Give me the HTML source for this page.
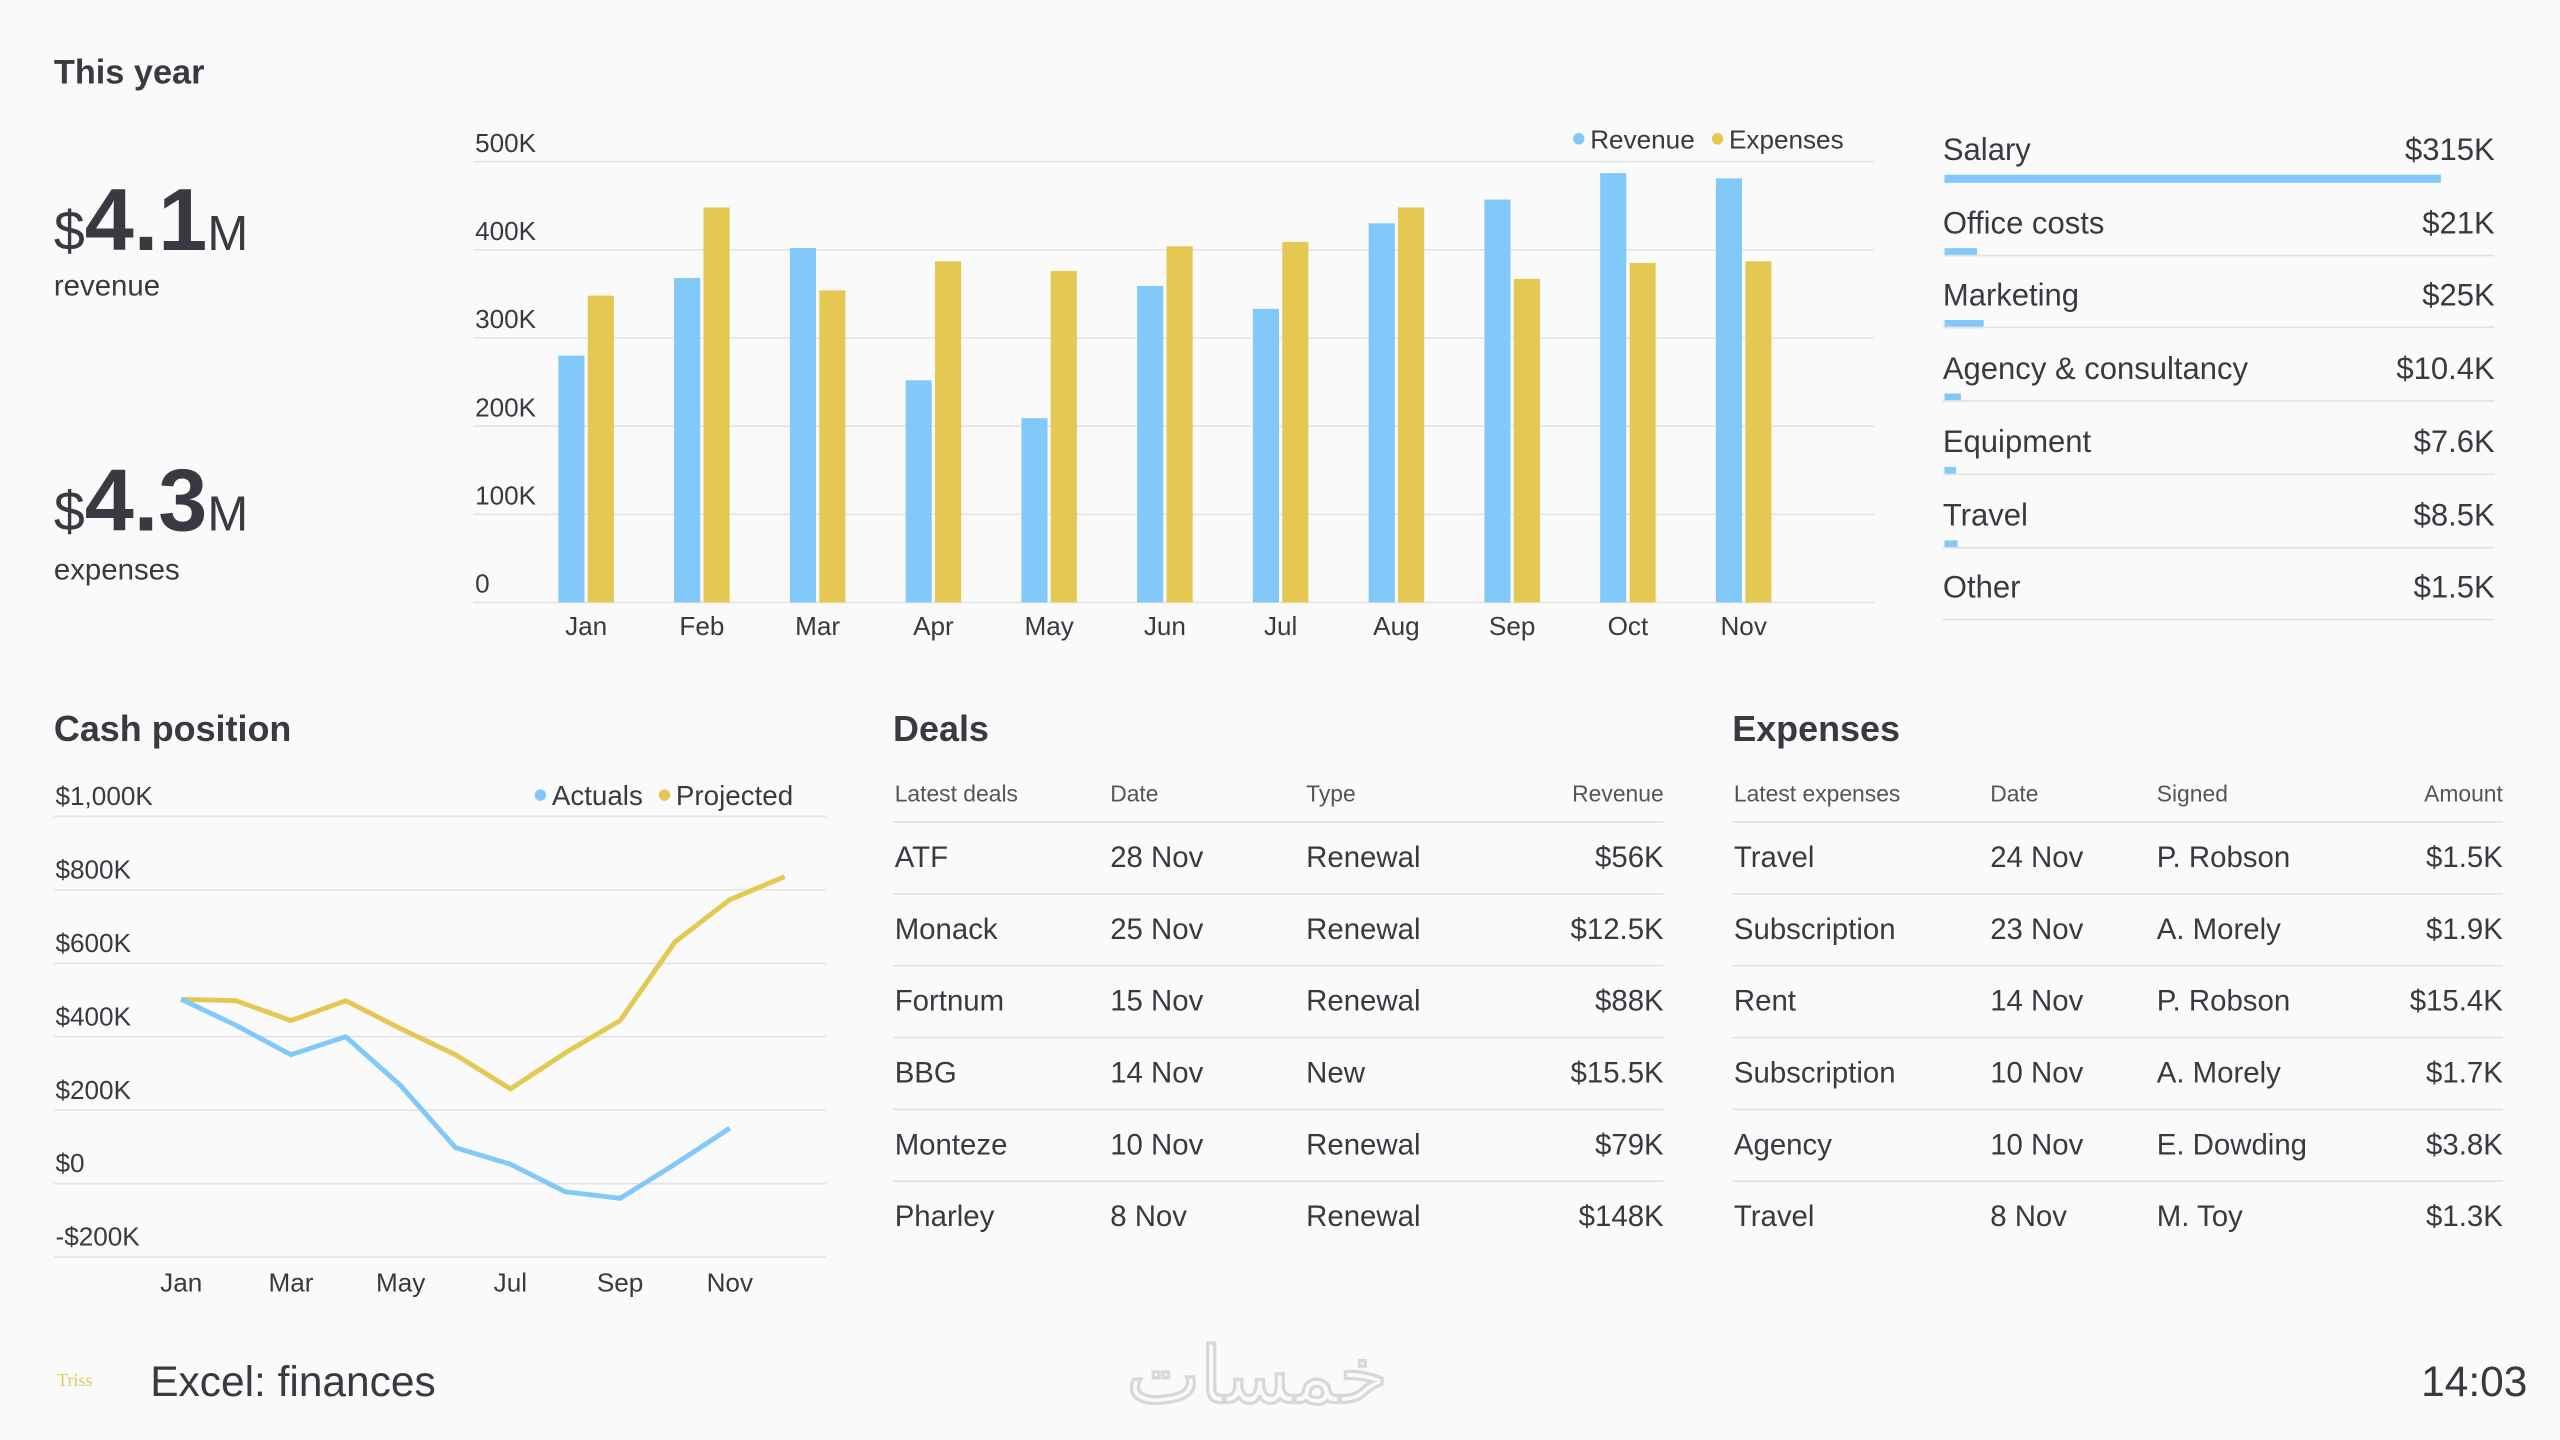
<!DOCTYPE html>
<html><head><meta charset="utf-8">
<style>
html,body{margin:0;padding:0;background:#fafafa;overflow:hidden}
body{width:2560px;height:1440px}
#root{position:absolute;left:0;top:0;width:1568px;height:882px;transform:scale(1.632653);transform-origin:0 0;font-family:"Liberation Sans","Noto Sans CJK SC",sans-serif;color:#3a3840;background:#fafafa}
.abs{position:absolute;white-space:nowrap}
.h{font-weight:bold;font-size:22px}
.th{font-size:14px;color:#555}
.td{font-size:18px}
.r{text-align:right}
.line{position:absolute;height:1px;background:#e2e2e2}
svg text{font-family:"Liberation Sans",sans-serif;fill:#3a3840}
</style></head><body>
<div id="root">
<div class="abs h" style="left:33px;top:33px;font-size:21px">This year</div>
<div class="abs" style="left:33px;top:104px"><span style="font-size:34px">$</span><span style="font-size:54px;font-weight:bold">4.1</span><span style="font-size:30px">M</span></div>
<div class="abs" style="left:33px;top:165px;font-size:18px">revenue</div>
<div class="abs" style="left:33px;top:276px"><span style="font-size:34px">$</span><span style="font-size:54px;font-weight:bold">4.3</span><span style="font-size:30px">M</span></div>
<div class="abs" style="left:33px;top:339px;font-size:18px">expenses</div>

<svg id="bar" class="abs" style="left:0;top:0" width="1568" height="420"></svg>
<svg id="cash" class="abs" style="left:0;top:420px" width="540" height="400"></svg>

<div id="costs"></div>

<div class="abs h" style="left:33px;top:434px">Cash position</div>
<div class="abs h" style="left:547px;top:434px">Deals</div>
<div class="abs h" style="left:1061px;top:434px">Expenses</div>
<div id="tables"></div>

<div class="abs" style="left:35px;top:840px;font-size:11px;color:#e3c86a;font-family:'Liberation Serif',serif">Triss</div>
<div class="abs" style="left:92px;top:831px;font-size:26px">Excel: finances</div>
<div class="abs" style="left:690px;top:815px;font-size:48px;color:transparent;-webkit-text-stroke:2px #d8d8d8;font-family:'DejaVu Sans',sans-serif">خمسات</div>
<div class="abs" style="right:20px;top:831px;font-size:26px">14:03</div>
</div>
<script>
const NS="http://www.w3.org/2000/svg";
function mk(p,t,a){const e=document.createElementNS(NS,t);for(const k in a)e.setAttribute(k,a[k]);p.appendChild(e);return e;}
const BLUE="#82c8f8",GOLD="#e4c852";
// Bar chart data
const months=["Jan","Feb","Mar","Apr","May","Jun","Jul","Aug","Sep","Oct","Nov"];
const revenue=[280,368,402,252,209,359,333,430,457,487,481];
const expenses=[348,448,354,387,376,404,409,448,367,385,387];
const barTicks=[0,100,200,300,400,500];
const bar=document.getElementById('bar');
const by=v=>369-v*0.54, bx=i=>359+i*70.9;
barTicks.forEach(t=>{
 const l=mk(bar,'line',{x1:290,x2:1148,y1:by(t),y2:by(t),stroke:'#e4e4e4','stroke-width':1});
 
 const tx=mk(bar,'text',{x:291,y:by(t)-6,'font-size':16});tx.textContent=t===0?'0':t+'K';
 
});
months.forEach((m,i)=>{
 const r=mk(bar,'rect',{x:bx(i)-17,y:by(revenue[i]),width:16,height:revenue[i]*0.54,fill:BLUE});
 
 const e=mk(bar,'rect',{x:bx(i)+1,y:by(expenses[i]),width:16,height:expenses[i]*0.54,fill:GOLD});
 
 const t=mk(bar,'text',{x:bx(i),y:389,'font-size':16,'text-anchor':'middle'});t.textContent=m;
 
});
[[967,'Revenue',BLUE],[1052,'Expenses',GOLD]].forEach(([x,n,c])=>{
 const g=mk(bar,'g',{});
 mk(g,'circle',{cx:x,cy:85,r:3.5,fill:c});const t=mk(g,'text',{x:x+7,y:91,'font-size':16,fill:'#555'});t.textContent=n;
});
// Cash position data
const cashMonths=["Jan","Feb","Mar","Apr","May","Jun","Jul","Aug","Sep","Oct","Nov","Dec"];
const actuals=[502,431,351,400,267,98,53,-22,-40,53,151];
const projected=[502,498,444,498,422,351,258,356,444,658,773,836];
const cashTicks=[-200,0,200,400,600,800,1000];
const cashTickLabels=["-$200K","$0","$200K","$400K","$600K","$800K","$1,000K"];
const cashXLabels=["Jan","Mar","May","Jul","Sep","Nov"];
const cash=document.getElementById('cash');
const cy=v=>305-v*0.225, cx=i=>111+i*33.6;
cashTicks.forEach((t,i)=>{
 const l=mk(cash,'line',{x1:33,x2:506,y1:cy(t)+0,y2:cy(t),stroke:'#e4e4e4','stroke-width':1});
 
 const tx=mk(cash,'text',{x:34,y:cy(t)-7,'font-size':16});tx.textContent=cashTickLabels[i];
 
});
cashXLabels.forEach((m,i)=>{
 const t=mk(cash,'text',{x:cx(i*2),y:371,'font-size':16,'text-anchor':'middle'});t.textContent=m;
 
});
const pp=mk(cash,'polyline',{points:projected.map((v,i)=>cx(i)+','+cy(v)).join(' '),fill:'none',stroke:GOLD,'stroke-width':3,'stroke-linejoin':'round'});

const ap=mk(cash,'polyline',{points:actuals.map((v,i)=>cx(i)+','+cy(v)).join(' '),fill:'none',stroke:BLUE,'stroke-width':3,'stroke-linejoin':'round'});

[[331,'Actuals',BLUE],[407,'Projected',GOLD]].forEach(([x,n,c])=>{
 const g=mk(cash,'g',{});
 mk(g,'circle',{cx:x,cy:67,r:3.5,fill:c});const t=mk(g,'text',{x:x+7,y:73,'font-size':17,fill:'#555'});t.textContent=n;
});
// Cost breakdown
const costNames=["Salary","Office costs","Marketing","Agency & consultancy","Equipment","Travel","Other"];
const costLabels=["$315K","$21K","$25K","$10.4K","$7.6K","$8.5K","$1.5K"];
const costValues=[315,21,25,10.4,7.6,8.5,1.5];
const costs=document.getElementById('costs');
costNames.forEach((n,i)=>{
 const y=82+i*44.7;
 const row=document.createElement('div');
 
 
 row.innerHTML=`<div class="abs td" style="left:1190px;top:${y}px;font-size:19px">${n.replace('&','&amp;')}</div><div class="abs td" style="left:1400px;width:128px;text-align:right;top:${y}px;font-size:19px">${costLabels[i]}</div>${costValues[i]>=5?`<div class="abs" style="left:1191px;top:${y+25}px;height:5px;width:${costValues[i]*0.965}px;background:${BLUE}"></div>`:''}`;
 costs.appendChild(row);
});
for(let i=1;i<7;i++){const d=document.createElement('div');d.className='line';d.style.cssText=`left:1190px;width:338px;top:${111+(i-1)*44.7+44.7}px`;costs.appendChild(d);}
// Tables
const dealRows=[["ATF","28 Nov","Renewal","$56K"],["Monack","25 Nov","Renewal","$12.5K"],["Fortnum","15 Nov","Renewal","$88K"],["BBG","14 Nov","New","$15.5K"],["Monteze","10 Nov","Renewal","$79K"],["Pharley","8 Nov","Renewal","$148K"]];
const expRows=[["Travel","24 Nov","P. Robson","$1.5K"],["Subscription","23 Nov","A. Morely","$1.9K"],["Rent","14 Nov","P. Robson","$15.4K"],["Subscription","10 Nov","A. Morely","$1.7K"],["Agency","10 Nov","E. Dowding","$3.8K"],["Travel","8 Nov","M. Toy","$1.3K"]];
const tables=document.getElementById('tables');
function table(name,x0,cols,right,heads,rows){
 const t=document.createElement('div');
 
 
 let h='';
 heads.forEach((c,i)=>{h+= i<3?`<div class="abs th" style="left:${cols[i]}px;top:478px">${c}</div>`:`<div class="abs th" style="left:${right-150}px;width:150px;text-align:right;top:478px">${c}</div>`;});
 h+=`<div class="line" style="left:${x0}px;width:${right-x0}px;top:503px"></div>`;
 rows.forEach((r,j)=>{const y=515+j*44;
  r.forEach((c,i)=>{h+= i<3?`<div class="abs td" style="left:${cols[i]}px;top:${y}px">${c}</div>`:`<div class="abs td" style="left:${right-150}px;width:150px;text-align:right;top:${y}px">${c}</div>`;});
  if(j<5)h+=`<div class="line" style="left:${x0}px;width:${right-x0}px;top:${y+32}px"></div>`;
 });
 t.innerHTML=h;tables.appendChild(t);
}
table('deals-table',547,[548,680,800],1019,["Latest deals","Date","Type","Revenue"],dealRows);
table('expenses-table',1061,[1062,1219,1321],1533,["Latest expenses","Date","Signed","Amount"],expRows);
</script>
</body></html>
